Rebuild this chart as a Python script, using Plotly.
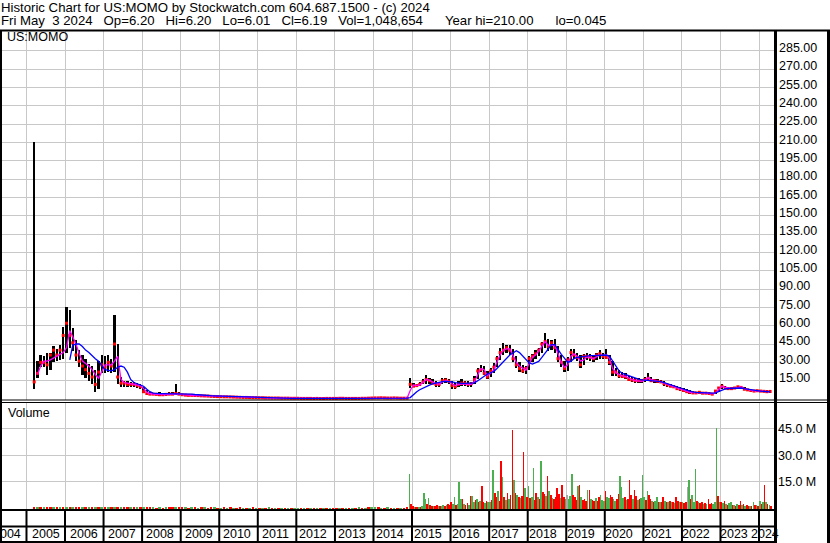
import pandas as pd
import plotly.graph_objects as go

N = None
# ---------------- data (monthly, May 2004 .. Apr 2024) ----------------
price_high = [
    N, N, N, N, N, N, N, N,                                   # 2004 May-Dec
    N, N, 210, 31, 36, 35, 38, 38, 43, 41, 44, 59,            # 2005
    75, 73, 58, 48, 40, 36, 33, 29, 27, 24, 31, 36,           # 2006
    35, 36, 33, 69, 45, 18, 15, 14.5, 14, 14, 13, 12,         # 2007
    10, 7, 5.5, 5, 5, 5.5, 5, 5, 6, 5.5, 12.5, 6,             # 2008
    4.5, 4.2, 4, 4, 3.8, 3.6, 3.5, 3.3, 3.2, 3, 2.9, 2.8,     # 2009
    2.6, 2.5, 2.4, 2.3, 2.2, 2.1, 2.0, 1.9, 1.8, 1.8, 1.7, 1.6,  # 2010
    1.5, 1.5, 1.4, 1.4, 1.3, 1.3, 1.2, 1.2, 1.1, 1.1, 1.0, 1.0,  # 2011
    1.0, 0.9, 0.9, 0.9, 0.8, 0.8, 0.9, 0.8, 0.8, 0.8, 0.9, 0.9,  # 2012
    0.9, 1.0, 1.0, 0.9, 0.9, 0.8, 0.8, 0.9, 0.9, 1.0, 1.1, 1.2,  # 2013
    1.3, 1.3, 1.4, 1.3, 1.2, 1.2, 1.3, 1.2, 1.1, 1.0, 1.0, 17,   # 2014
    13, 12, 14, 16, 19.4, 17, 16, 14.5, 14, 17, 17, 16.6,     # 2015
    15, 13, 15, 16, 15, 14.5, 14, 18.5, 25, 27.5, 27, 23,     # 2016
    25, 29.5, 35, 42, 45.5, 44.5, 44, 41, 35, 30, 28, 27,     # 2017
    35, 37, 40, 42, 47, 54, 49, 48, 49, 43, 36, 31,           # 2018
    34, 41, 41, 38, 36, 37, 38, 37, 36, 38, 40, 38,           # 2019
    41, 36, 31, 25, 24, 22, 21, 19, 18, 17, 17, 16.5,         # 2020
    18, 21, 18, 16.5, 16, 15.5, 15, 13, 12.5, 11.5, 11, 9.5,  # 2021
    9, 8, 7, 6.5, 6, 6, 5.8, 5.5, 5.5, 5, 7, 10,              # 2022
    12, 11, 10, 9.5, 9.5, 10.5, 10.8, 10, 8.5, 8, 7.5, 7.5,   # 2023
    7.2, 7, 7, 6.5,                                           # 2024 Jan-Apr
]
price_low = [
    N, N, N, N, N, N, N, N,
    N, N, 8, 17, 26, 26, 20, 24, 30, 31, 32, 33,
    38, 42, 39, 31, 26, 20, 17, 15, 12, 6, 8, 21,
    21, 22, 21, 22, 12, 10, 10, 10, 10, 10, 9, 8,
    5, 3.5, 3, 3, 3, 2.8, 2.5, 2.5, 3, 3, 3, 3,
    2.5, 2.5, 2.3, 2.3, 2.2, 2, 2, 1.8, 1.8, 1.7, 1.6, 1.5,
    1.4, 1.3, 1.3, 1.2, 1.1, 1.0, 1.0, 0.9, 0.9, 0.8, 0.8, 0.7,
    0.6, 0.6, 0.5, 0.5, 0.5, 0.4, 0.4, 0.4, 0.3, 0.3, 0.3, 0.3,
    0.3, 0.3, 0.3, 0.3, 0.2, 0.2, 0.2, 0.2, 0.2, 0.2, 0.3, 0.3,
    0.3, 0.3, 0.3, 0.3, 0.3, 0.2, 0.2, 0.3, 0.3, 0.3, 0.4, 0.4,
    0.5, 0.5, 0.6, 0.5, 0.5, 0.4, 0.5, 0.4, 0.4, 0.4, 0.4, 9,
    9.5, 9.5, 10.4, 12, 12.5, 12.5, 12, 9.5, 10, 12, 13, 12.5,
    8.5, 8, 10, 10.5, 11, 9.5, 9.5, 12, 16, 22.5, 20, 16,
    18, 21, 26.5, 32, 36, 37.5, 36, 30, 25, 22, 21, 20.5,
    24, 30, 33, 35, 38, 42, 39, 40, 38, 30, 26, 22,
    23, 30, 33, 31, 25, 28, 32, 31, 30, 32, 33, 33,
    33, 28, 19, 19, 17, 17, 16, 15, 14, 13.5, 13, 13,
    14, 15, 14, 13.5, 13, 13, 11, 10, 9.5, 9, 7.5, 6.5,
    6, 5, 4.5, 4.5, 4, 4.3, 4.2, 4.2, 4, 3.6, 3.8, 6,
    8.5, 8.5, 8, 7.8, 8, 8.5, 8.8, 7.5, 7, 6.5, 6, 6,
    5.8, 5.5, 5.5, 5.3,
]
price_close = [
    N, N, N, N, N, N, N, N,
    N, N, 14, 21, 30, 30, 28, 36, 40, 36, 40, 52,
    62, 52, 46, 36, 31, 27, 24, 21, 18, 12, 22, 28,
    26, 30, 27, 45, 18, 13, 13, 12, 12, 12, 11, 10,
    6, 4.5, 4, 4, 3.8, 3.5, 3.5, 3.8, 4, 4, 4.5, 4,
    3.5, 3.2, 3, 3, 2.9, 2.8, 2.6, 2.5, 2.4, 2.2, 2.1, 2.0,
    1.9, 1.8, 1.8, 1.7, 1.6, 1.5, 1.4, 1.3, 1.3, 1.2, 1.1, 1.1,
    1.0, 1.0, 0.9, 0.9, 0.8, 0.8, 0.8, 0.7, 0.7, 0.7, 0.6, 0.6,
    0.6, 0.5, 0.5, 0.5, 0.5, 0.4, 0.5, 0.4, 0.4, 0.5, 0.5, 0.5,
    0.5, 0.6, 0.6, 0.5, 0.5, 0.5, 0.5, 0.5, 0.6, 0.6, 0.7, 0.8,
    0.9, 0.9, 1.0, 0.9, 0.8, 0.8, 0.9, 0.8, 0.7, 0.7, 0.7, 12,
    10.5, 11, 12, 14, 16, 15, 13, 12, 12, 15, 15.5, 14.5,
    11, 10, 12, 13, 13, 12, 12.5, 16, 23, 24, 21, 18,
    23, 26, 33, 38, 40, 42, 40, 33, 28, 25, 23, 25,
    33, 35, 37, 40, 45, 47, 43, 46, 42, 33, 30, 25,
    32, 38, 36, 34, 28, 35, 35, 34, 33, 36, 37, 35,
    34, 30, 22, 22, 19, 18.5, 18, 16, 15.5, 15, 15, 15,
    16, 17, 15, 15, 14.5, 14, 12.5, 11.5, 10.5, 10, 8.5, 8,
    7, 6, 5.5, 5, 5, 5.5, 4.8, 4.8, 4.5, 4, 6.5, 9,
    10.5, 9, 8.5, 8.5, 9, 10, 9.5, 8, 7.5, 7, 6.5, 6.8,
    6.5, 6.3, 6, 6.2,
]
ma_fast = [
    N, N, N, N, N, N, N, N,
    N, N, N, 20, 27, 31, 31, 32, 33.5, 35, 36, 38,
    42, 56, 51, 45, 37, 31, 29, 27, 24, 20, 17, 23,
    28, 28, 28, 31, 35, 16, 13.5, 13, 12.5, 12.5, 12, 11,
    8.5, 5.5, 4.3, 4, 3.9, 3.8, 3.6, 3.7, 3.9, 4, 4.6, 4.2,
    3.6, 3.3, 3.1, 3.0, 2.9, 2.8, 2.7, 2.5, 2.4, 2.3, 2.1, 2.0,
    1.9, 1.8, 1.8, 1.7, 1.6, 1.5, 1.4, 1.35, 1.3, 1.2, 1.15, 1.1,
    1.0, 1.0, 0.95, 0.9, 0.85, 0.8, 0.8, 0.75, 0.7, 0.7, 0.65, 0.6,
    0.6, 0.55, 0.5, 0.5, 0.5, 0.45, 0.5, 0.45, 0.45, 0.5, 0.5, 0.5,
    0.5, 0.55, 0.6, 0.55, 0.5, 0.5, 0.5, 0.5, 0.55, 0.6, 0.7, 0.75,
    0.85, 0.9, 0.95, 0.9, 0.85, 0.8, 0.85, 0.8, 0.75, 0.7, 0.7, 7,
    11.5, 11, 11.5, 13.5, 16, 15.5, 14, 12.5, 12, 14, 15, 14.5,
    12.5, 11, 12, 12.5, 12.5, 12, 12, 14.5, 20, 25, 24, 19,
    21, 24, 30, 36, 40, 41, 41, 36, 30, 27, 25, 23.5,
    29, 34, 36, 39, 43, 47, 44, 44, 44, 37, 30, 26,
    28, 35, 37, 35, 31, 32, 34.5, 34, 33, 34.5, 36, 35.5,
    36.5, 33, 25, 21.5, 20, 19, 18.5, 17, 16, 15, 14.8, 14.5,
    15.5, 17.5, 16, 15, 14.5, 14, 13, 11.8, 11, 10.2, 9, 8,
    7.5, 6.5, 5.5, 5.3, 5, 5, 5, 4.8, 4.7, 4.3, 5, 8,
    10.5, 9.5, 8.8, 8.6, 8.8, 9.5, 9.8, 8.5, 7.7, 7.2, 6.7, 6.6,
    6.5, 6.3, 6.1, 6.0,
]
ma_slow = [
    N, N, N, N, N, N, N, N,
    N, N, N, N, N, N, N, N, N, N, N, N,
    N, 32, 44, 45, 45, 43, 40, 38, 35, 33, 31, 27,
    24, 23.5, 23, 24, 26, 27, 26, 22, 16, 13.5, 12.3, 11.7,
    10.5, 8, 6, 4.8, 4.4, 4.4, 4.4, 4.4, 4.4, 4.4, 4.4, 4.4,
    4.3, 4.2, 4.1, 4.0, 3.7, 3.4, 3.1, 2.9, 2.8, 2.7, 2.6, 2.5,
    2.4, 2.3, 2.2, 2.1, 2.0, 1.9, 1.8, 1.7, 1.6, 1.5, 1.4, 1.3,
    1.2, 1.1, 1.0, 0.95, 0.9, 0.85, 0.8, 0.75, 0.7, 0.65, 0.6, 0.6,
    0.55, 0.55, 0.5, 0.5, 0.5, 0.5, 0.5, 0.45, 0.45, 0.45, 0.45, 0.5,
    0.5, 0.5, 0.5, 0.5, 0.5, 0.5, 0.5, 0.5, 0.5, 0.55, 0.55, 0.6,
    0.65, 0.7, 0.75, 0.8, 0.85, 0.85, 0.85, 0.85, 0.85, 0.8, 0.8, 1.2,
    4, 6, 7.6, 9, 10.4, 11.4, 12.3, 13.1, 13.9, 14.2, 14.4, 14.5,
    14, 13.5, 13, 12.8, 12.8, 12.8, 12.8, 13.2, 15, 17, 19, 20.5,
    21.5, 22.6, 25, 28, 31, 33.5, 36, 37.6, 39.5, 38, 35, 32,
    29.5, 28.6, 29.5, 30.8, 34, 37.6, 41, 44.5, 44.5, 40, 36.5, 33.5,
    30, 31, 33, 34, 34.5, 34.5, 35, 35.5, 35.5, 35.5, 35.5, 36,
    36, 35, 31, 27, 23, 21, 20, 19, 18, 17, 16.2, 15.7,
    15.5, 15.5, 15.3, 15, 14.7, 14.3, 13.5, 12.5, 11.7, 11, 10, 9,
    8.2, 7.3, 6.5, 5.8, 5.4, 5.2, 5.0, 4.9, 4.9, 4.8, 5, 6,
    7.5, 8.2, 8.6, 8.8, 9, 9, 9, 8.5, 8, 7.6, 7, 6.7,
    6.4, 6.2, 6.0, 5.8,
]

# volume, millions: monthly Mar 2005 .. Nov 2014 (old listing)
volume_early = [
    0.3, 0.4, 0.3, 0.3, 0.2, 0.3, 0.3, 0.2, 0.3, 0.4,
    0.5, 0.4, 0.3, 0.3, 0.3, 0.2, 0.2, 0.2, 0.3, 0.3, 0.2, 0.3,
    0.3, 0.2, 0.2, 0.5, 0.4, 0.2, 0.2, 0.2, 0.2, 0.2, 0.2, 0.2,
    0.2, 0.2, 0.2, 0.2, 0.1, 0.2, 0.1, 0.2, 0.2, 0.2, 0.3, 0.2,
    0.2, 0.2, 0.1, 0.2, 0.2, 0.1, 0.2, 0.2, 0.1, 0.2, 0.2, 0.1,
    0.1, 0.2, 0.1, 0.2, 0.1, 0.1, 0.2, 0.1, 0.1, 0.1, 0.2, 0.1,
    0.1, 0.1, 0.1, 0.2, 0.1, 0.1, 0.1, 0.1, 0.1, 0.1, 0.1, 0.1,
    0.1, 0.1, 0.1, 0.1, 0.1, 0.1, 0.1, 0.1, 0.1, 0.1, 0.1, 0.1,
    0.1, 0.1, 0.1, 0.1, 0.1, 0.1, 0.1, 0.2, 0.1, 0.1, 0.2, 0.2,
    0.2, 0.2, 0.1, 0.1, 0.2, 0.1, 0.1, 0.1, 0.1, 0.1, 0.2,
]
volume_early_dir = ("rgrgrrgrgr" "grgrrgrgrgrg" "rgrgrgrrgrgr" "grrgrgrgrrgr"
                    "rgrgrgrgrrgr" "grgrgrrgrgrg" "rgrgrgrgrgrg" "grgrgrgrgrgr"
                    "rgrgrgrgrgrg" "grgrgrgrgrr")
# volume, millions: half-months Dec 2014 .. Apr 2024
volume_recent = [
    19.4, 2.0,
    0.8, 0.5, 0.4, 0.5, 0.6, 0.5, 1.0, 8.5, 5.0, 2.0, 5.6, 1.5, 1.2, 0.8, 1.0, 1.8, 0.9, 0.8, 1.2, 1.6, 1.0, 1.3, 2.0, 1.4,
    3.5, 2.0, 6.0, 1.5, 2.2, 14.6, 5.0, 5.0, 2.0, 1.6, 2.5, 1.8, 6.5, 6.5, 3.5, 4.5, 5.0, 3.0, 4.0, 12.3, 3.5, 2.5, 4.0, 3.0,
    3.5, 4.5, 21.5, 8.5, 6.0, 9.4, 4.0, 26.7, 17.5, 6.0, 4.5, 8.5, 5.0, 7.0, 44.6, 15.6, 8.5, 7.0, 6.0, 5.5, 6.5, 31.9, 11.0, 6.0,
    12.3, 5.5, 6.0, 22.5, 4.5, 8.5, 6.0, 5.0, 26.7, 9.0, 8.0, 6.5, 18.0, 9.4, 7.0, 5.5, 5.0, 6.0, 11.5, 8.0, 5.5, 12.7, 6.0, 5.0,
    7.0, 5.0, 6.5, 19.4, 7.0, 6.0, 4.5, 12.3, 13.0, 6.0, 4.5, 5.0, 4.0, 10.0, 10.4, 5.0, 4.5, 4.0, 5.5, 4.0, 6.0, 7.0, 4.5, 4.0,
    9.4, 6.0, 5.5, 7.0, 6.0, 5.0, 4.0, 5.0, 7.9, 18.0, 11.7, 5.5, 6.0, 4.5, 5.0, 15.8, 7.0, 5.0, 10.0, 6.5, 4.5, 5.0, 5.5, 18.6,
    6.0, 4.5, 9.8, 7.0, 5.0, 4.0, 3.5, 4.0, 6.0, 3.0, 3.5, 3.0, 6.0, 4.0, 3.5, 3.0, 4.0, 3.5, 3.0, 2.5, 6.0, 4.0, 3.0, 3.5,
    3.0, 2.5, 3.0, 11.7, 15.8, 5.0, 7.0, 3.0, 21.9, 4.0, 3.0, 2.5, 3.0, 2.0, 2.5, 2.0, 5.2, 2.0, 2.5, 2.0, 3.0, 45.6, 6.5, 3.0,
    3.5, 2.5, 3.7, 2.0, 1.5, 2.5, 3.0, 1.5, 1.5, 1.2, 2.0, 1.5, 3.7, 1.5, 2.0, 1.0, 1.5, 1.0, 1.2, 1.0, 3.5, 1.5, 1.5, 1.2,
    4.0, 2.0, 3.5, 12.9, 3.5, 2.0, 1.5, 1.0,
]
volume_recent_dir = ("gr"
                     "rgrrgrgggrgrrgrrgrggrgrr"
                     "rggrgggrgrrgrggrgrgrrgrg"
                     "grgrrgrrgrgrgrrgrgrgrrgr"
                     "grggrrgrgrrgrgrgrrrrgrrg"
                     "ngggrrrgrgrrrgrgrrgrrggg"
                     "rggrrggrrgggrgrrrgrrgrgg"
                     "grgrrgrggrgrrgrgrgrgrrgr"
                     "grrngrgggrgrrgrgrrrgggrg"
                     "rgrgrggrgrgrrgrgrrgrgrgr"
                     "grgrgrgr")

year_labels = [str(y) for y in range(2004, 2025)]
price_ticks = [15 * k for k in range(1, 20)]
volume_ticks = [15, 30, 45]
def sp(n): return "\u00a0" * n
header_1 = "Historic Chart for US:MOMO by Stockwatch.com 604.687.1500 - (c) 2024"
header_2 = ("Fri May" + sp(2) + "3 2024" + sp(3) + "Op=6.20" + sp(3) + "Hi=6.20" + sp(3) + "Lo=6.01" + sp(3) +
            "Cl=6.19" + sp(3) + "Vol=1,048,654" + sp(6) + "Year hi=210.00" + sp(6) + "lo=0.045")

# ---------------- build ----------------
months = pd.date_range("2004-05-01", periods=len(price_high), freq="MS") + pd.Timedelta(days=14)
early_dates = pd.date_range("2005-03-01", periods=len(volume_early), freq="MS") + pd.Timedelta(days=14)
half_starts = pd.date_range("2014-12-01", "2024-04-01", freq="MS")
recent_dates = []
for m in half_starts:
    recent_dates += [m + pd.Timedelta(days=7), m + pd.Timedelta(days=22)]

COL = {"g": "#4CAF50", "r": "#FF0000", "n": "#A8A8A8"}
DAY = 86400000
VFLOOR = 1.0  # bars start at the panel floor

W, H = 830, 543
def px(x): return x / W
def py(y): return 1 - y / H

FONT = "Arial, Liberation Sans, sans-serif"
GRID = "#C8C8C8"

spans = [None if h is None else h - l for h, l in zip(price_high, price_low)]

fig = go.Figure()
fig.add_trace(go.Bar(x=months, y=spans, base=price_low, width=22 * DAY,
                     marker=dict(color="black", line=dict(width=0)),
                     xaxis="x", yaxis="y"))
fig.add_trace(go.Scatter(x=months, y=price_close, mode="markers",
                         marker=dict(symbol="square", size=3, color="#FF0000", line=dict(width=0)),
                         xaxis="x", yaxis="y"))
fig.add_trace(go.Scatter(x=months, y=ma_fast, mode="lines",
                         line=dict(color="#FF00FF", width=1.3), xaxis="x", yaxis="y"))
fig.add_trace(go.Scatter(x=months, y=ma_slow, mode="lines",
                         line=dict(color="#0000FF", width=1.3), xaxis="x", yaxis="y"))

fig.add_trace(go.Bar(x=early_dates, y=[v + VFLOOR for v in volume_early], base=-VFLOOR,
                     width=24 * DAY,
                     marker=dict(color=[COL[c] for c in volume_early_dir], line=dict(width=0)),
                     xaxis="x2", yaxis="y2"))
fig.add_trace(go.Bar(x=recent_dates, y=[v + VFLOOR for v in volume_recent], base=-VFLOOR,
                     width=15 * DAY,
                     marker=dict(color=[COL[c] for c in volume_recent_dir], line=dict(width=0)),
                     xaxis="x2", yaxis="y2"))

year_starts = [pd.Timestamp(f"{y}-01-01") for y in range(2005, 2025)]
x_range = ["2004-05-14", "2024-05-22"]
xdom = [px(2), px(774)]

common_x = dict(type="date", range=x_range, domain=xdom, tickvals=year_starts,
                showgrid=True, gridcolor=GRID, gridwidth=1, showticklabels=False,
                ticks="", zeroline=False, showline=False, fixedrange=True)

fig.update_layout(
    width=W, height=H, margin=dict(l=0, r=0, t=0, b=0),
    paper_bgcolor="white", plot_bgcolor="white", showlegend=False,
    barmode="overlay", bargap=0,
    font=dict(family=FONT, size=12, color="black"),
    xaxis=dict(anchor="y", **common_x),
    xaxis2=dict(anchor="y2", matches="x", **common_x),
    yaxis=dict(domain=[py(400), py(31)], range=[-0.8, 301.1], side="right", anchor="x",
               tickvals=price_ticks, ticktext=[f"{v:.2f}" for v in price_ticks],
               showgrid=True, gridcolor=GRID, gridwidth=1, ticks="", zeroline=False,
               showline=False, tickfont=dict(family=FONT, size=12.5, color="black"),
               ticklabelstandoff=4, ticklabelshift=-3, fixedrange=True),
    yaxis2=dict(domain=[py(509.5), py(402)], range=[-VFLOOR, 60.3], side="right", anchor="x2",
                tickvals=volume_ticks, ticktext=[f"{v:.1f} M" for v in volume_ticks],
                showgrid=True, gridcolor=GRID, gridwidth=1, ticks="", zeroline=False,
                showline=False, tickfont=dict(family=FONT, size=12.5, color="black"),
                ticklabelstandoff=3, fixedrange=True),
)

shapes = []
def hline(y, x0, x1, w):
    shapes.append(dict(type="line", xref="paper", yref="paper", x0=px(x0), x1=px(x1),
                       y0=py(y), y1=py(y), line=dict(color="black", width=w), layer="above"))
def vline(x, y0, y1, w):
    shapes.append(dict(type="line", xref="paper", yref="paper", x0=px(x), x1=px(x),
                       y0=py(y0), y1=py(y1), line=dict(color="black", width=w), layer="above"))

hline(30.5, 0, 830, 2)
hline(400, 0, 830, 1)
hline(402.5, 0, 830, 1)
hline(510, 0, 776, 2)
hline(526.5, 0, 776, 2)
hline(542, 0, 776, 2)
vline(1, 30, 543, 2)
vline(775.5, 30, 543, 3)
vline(828.5, 30, 543, 3)
for d in year_starts:
    shapes.append(dict(type="line", xref="x", yref="paper", x0=d, x1=d,
                       y0=py(542), y1=py(510), line=dict(color="black", width=2), layer="above"))
fig.update_layout(shapes=shapes)

ann = []
def text(x, y, s, xanchor="left", xref="paper", size=12.5):
    ann.append(dict(x=x, y=py(y), xref=xref, yref="paper", text=s, showarrow=False,
                    xanchor=xanchor, yanchor="middle", borderpad=0,
                    font=dict(family=FONT, size=size, color="black")))

text(px(0), 7.5, header_1, size=13.2)
text(px(0), 20, header_2, size=13.2)
text(px(6), 37.5, "US:MOMO")
text(px(7), 412.5, "Volume")
for lab in year_labels:
    y = int(lab)
    if y == 2024:
        text(px(780), 534, lab, xanchor="right")
    else:
        pos = pd.Timestamp(f"{y}-07-02") - pd.Timedelta(days=3 * (y - 2005))
        text(pos, 534, lab, xanchor="center", xref="x")
fig.update_layout(annotations=ann)

fig.write_html("out.html", config={"displayModeBar": False, "staticPlot": True},
               post_script="document.body.style.margin='0';")
